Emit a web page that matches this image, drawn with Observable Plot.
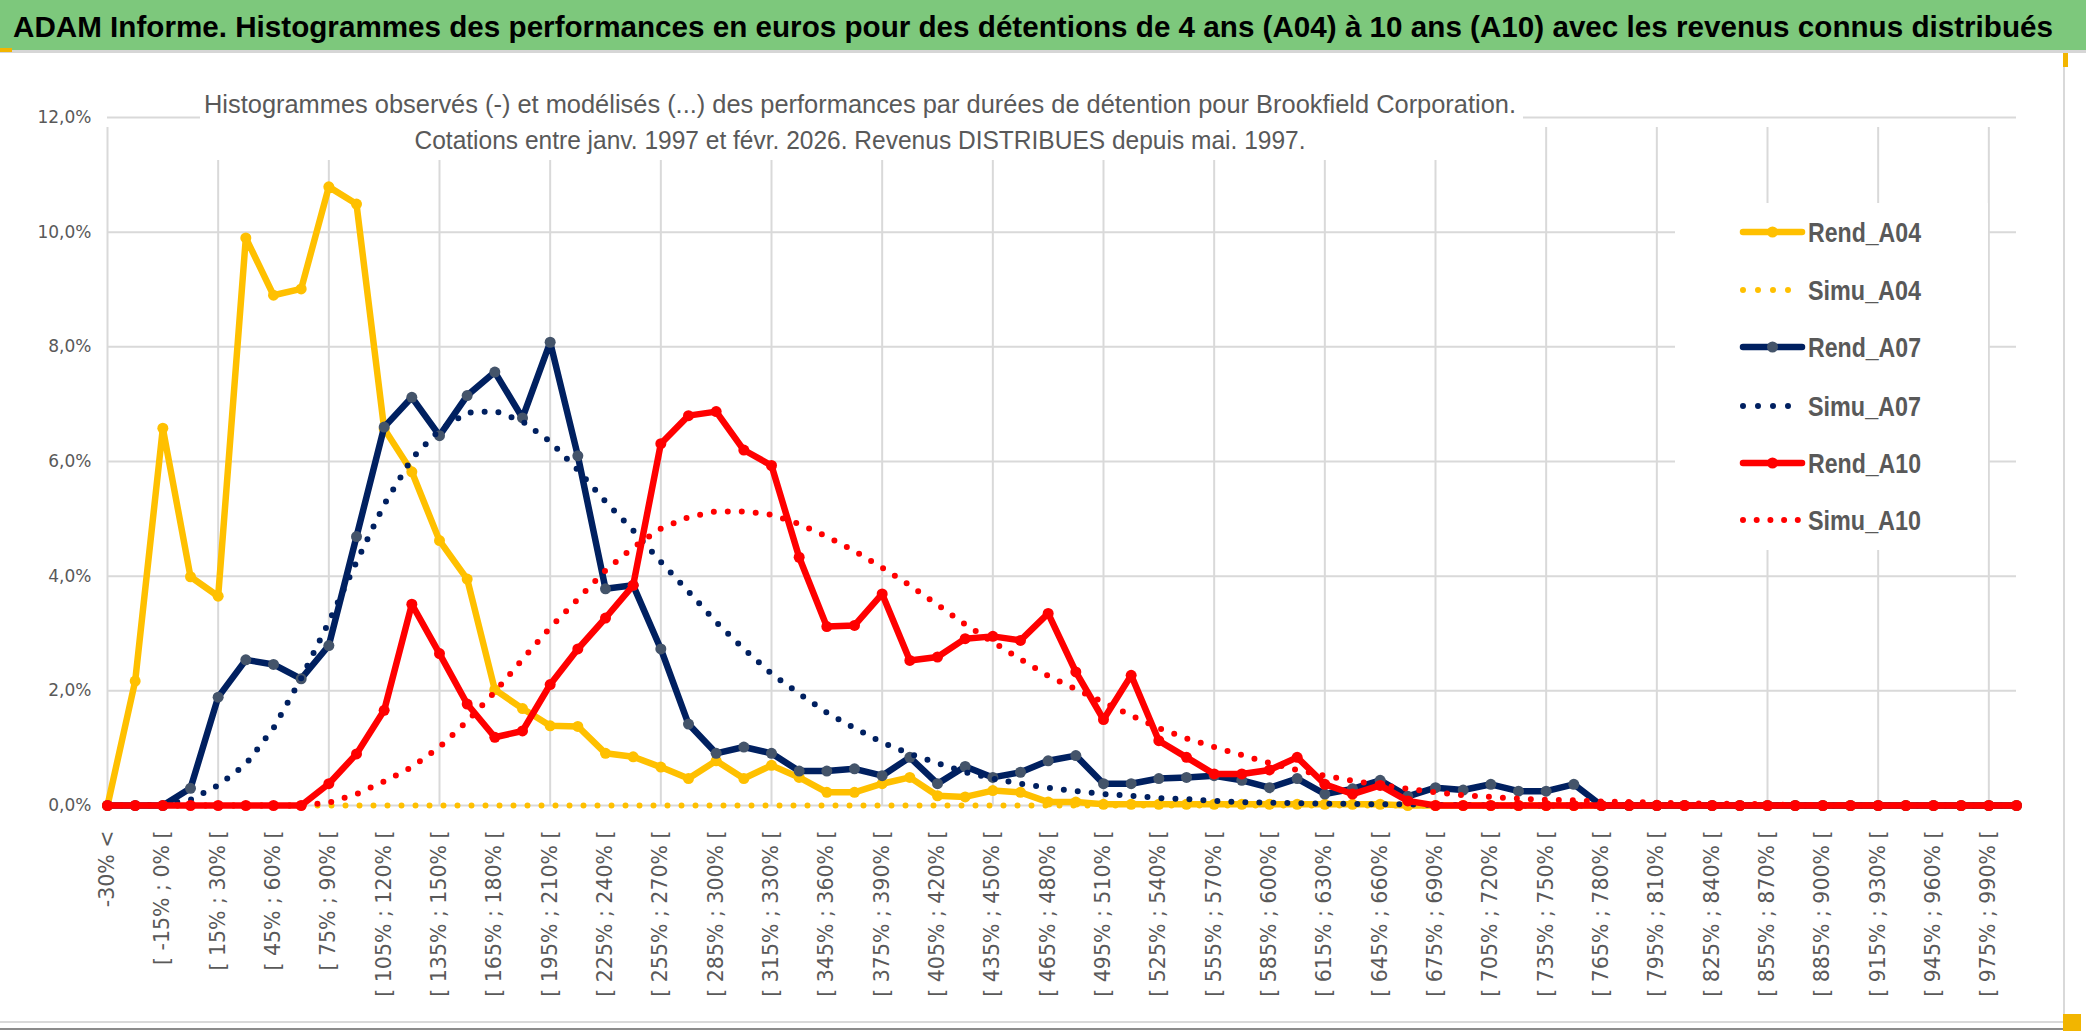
<!DOCTYPE html>
<html><head><meta charset="utf-8">
<script src="https://cdn.jsdelivr.net/npm/d3@7"></script>
<script src="https://cdn.jsdelivr.net/npm/@observablehq/plot@0.6"></script>
<style>
html,body{margin:0;padding:0;background:#fff;}
#wrap{position:relative;width:2086px;height:1031px;overflow:hidden;background:#fff;}
#wrap > *{position:absolute;display:block;}
</style></head><body><div id="wrap"></div>
<script>
const titleText = "ADAM Informe. Histogrammes des performances en euros pour des détentions de 4 ans (A04) à 10 ans (A10) avec les revenus connus distribués";
const subtitleLines = [
  "Histogrammes observés (-) et modélisés (...) des performances par durées de détention pour Brookfield Corporation.",
  "Cotations entre janv. 1997 et févr. 2026. Revenus DISTRIBUES depuis mai. 1997."
];
const categories = [
  "-30% <","[ -30% ; -15% [","[ -15% ; 0% [","[ 0% ; 15% [","[ 15% ; 30% [","[ 30% ; 45% [","[ 45% ; 60% [","[ 60% ; 75% [",
  "[ 75% ; 90% [","[ 90% ; 105% [","[ 105% ; 120% [","[ 120% ; 135% [","[ 135% ; 150% [","[ 150% ; 165% [","[ 165% ; 180% [","[ 180% ; 195% [",
  "[ 195% ; 210% [","[ 210% ; 225% [","[ 225% ; 240% [","[ 240% ; 255% [","[ 255% ; 270% [","[ 270% ; 285% [","[ 285% ; 300% [","[ 300% ; 315% [",
  "[ 315% ; 330% [","[ 330% ; 345% [","[ 345% ; 360% [","[ 360% ; 375% [","[ 375% ; 390% [","[ 390% ; 405% [","[ 405% ; 420% [","[ 420% ; 435% [",
  "[ 435% ; 450% [","[ 450% ; 465% [","[ 465% ; 480% [","[ 480% ; 495% [","[ 495% ; 510% [","[ 510% ; 525% [","[ 525% ; 540% [","[ 540% ; 555% [",
  "[ 555% ; 570% [","[ 570% ; 585% [","[ 585% ; 600% [","[ 600% ; 615% [","[ 615% ; 630% [","[ 630% ; 645% [","[ 645% ; 660% [","[ 660% ; 675% [",
  "[ 675% ; 690% [","[ 690% ; 705% [","[ 705% ; 720% [","[ 720% ; 735% [","[ 735% ; 750% [","[ 750% ; 765% [","[ 765% ; 780% [","[ 780% ; 795% [",
  "[ 795% ; 810% [","[ 810% ; 825% [","[ 825% ; 840% [","[ 840% ; 855% [","[ 855% ; 870% [","[ 870% ; 885% [","[ 885% ; 900% [","[ 900% ; 915% [",
  "[ 915% ; 930% [","[ 930% ; 945% [","[ 945% ; 960% [","[ 960% ; 975% [","[ 975% ; 990% [","> 990%"
];
const xTickLabels = categories.filter((d, i) => i % 2 === 0 && i < 69);
const xGridCats = categories.filter((d, i) => i % 4 === 0);
const yTicks = [0, 2, 4, 6, 8, 10, 12];

// values in percent
const rendA04 = [0,2.17,6.58,3.99,3.65,9.9,8.9,9.01,10.79,10.49,6.57,5.82,4.62,3.95,2.02,1.69,1.39,1.38,0.91,0.85,
  0.67,0.47,0.78,0.47,0.70,0.49,0.23,0.23,0.38,0.49,0.17,0.15,0.26,0.23,0.06,0.06,0.02,0.02,0.02,0.02,
  0.02,0.02,0.02,0.02,0.02,0.02,0.02,0,0,0,0,0,0,0,0,0,0,0,0,0,0,0,0,0,0,0,0,0,0,0];
const simuA04 = [0,0,0,0,0,0,0,0,0,0,0,0,0,0,0,0,0,0,0,0,0,0,0,0,0,0,0,0,0,0,0,0,0,0,0,0,0,0,0,0,
  0,0,0,0,0,0,0,0,0,0,0,0,0,0,0,0,0,0,0,0,0,0,0,0,0,0,0,0,0,0];
const rendA07 = [0,0,0,0.3,1.89,2.54,2.46,2.21,2.79,4.69,6.6,7.12,6.45,7.15,7.56,6.76,8.08,6.1,3.78,3.84,
  2.73,1.42,0.91,1.02,0.91,0.6,0.6,0.64,0.52,0.84,0.38,0.68,0.49,0.58,0.78,0.87,0.38,0.38,0.47,0.49,
  0.52,0.44,0.31,0.47,0.2,0.29,0.44,0.16,0.31,0.27,0.37,0.25,0.25,0.37,0,0,0,0,0,0,0,0,0,0,0,0,0,0,0,0];
const simuA07 = [0,0,0.02,0.1,0.35,0.72,1.35,2.22,3.2,4.25,5.25,6.05,6.55,6.85,6.88,6.7,6.35,5.85,5.3,4.8,
  4.25,3.73,3.2,2.73,2.3,1.95,1.62,1.35,1.1,0.9,0.74,0.58,0.47,0.38,0.31,0.25,0.2,0.17,0.13,0.11,
  0.08,0.06,0.05,0.04,0.03,0.03,0.02,0.02,0.01,0.01,0,0,0,0,0,0,0,0,0,0,0,0,0,0,0,0,0,0,0,0];
const rendA10 = [0,0,0,0,0,0,0,0,0.38,0.9,1.66,3.51,2.65,1.77,1.19,1.3,2.11,2.73,3.27,3.84,
  6.31,6.8,6.87,6.2,5.93,4.33,3.12,3.14,3.69,2.53,2.59,2.91,2.95,2.88,3.35,2.33,1.5,2.27,1.13,0.84,
  0.55,0.55,0.62,0.84,0.37,0.2,0.35,0.08,0,0,0,0,0,0,0,0,0,0,0,0,0,0,0,0,0,0,0,0,0,0];
const simuA10 = [0,0,0,0,0,0,0,0,0.05,0.2,0.42,0.67,1.02,1.47,1.98,2.55,3.1,3.6,4.1,4.5,
  4.83,5.03,5.13,5.13,5.07,4.91,4.69,4.44,4.15,3.84,3.5,3.16,2.85,2.55,2.26,2.03,1.8,1.57,1.35,1.17,
  1.02,0.88,0.74,0.62,0.52,0.43,0.36,0.29,0.23,0.18,0.15,0.12,0.1,0.09,0.07,0.06,0.05,0.04,0.03,0.03,
  0.02,0.01,0.01,0.01,0,0,0,0,0,0];

const seriesNames = ["Rend_A04","Simu_A04","Rend_A07","Simu_A07","Rend_A10","Simu_A10"];
const seriesValues = [rendA04, simuA04, rendA07, simuA07, rendA10, simuA10];
const seriesColors = ["#FFC000","#FFC000","#002060","#002060","#FF0000","#FF0000"];
const markerColors = ["#FFC000", null, "#44546A", null, "#FF0000", null];

const wrap = d3.select("#wrap");

// title bar
const tsvg = wrap.append("svg").attr("width", 2086).attr("height", 54).style("left","0px").style("top","0px");
tsvg.append("rect").attr("width", 2086).attr("height", 50).attr("fill", "#7dc87c");
tsvg.append("rect").attr("y", 50).attr("width", 2086).attr("height", 3).attr("fill", "#d6d6d6");
tsvg.append("rect").attr("y", 48).attr("width", 12).attr("height", 4).attr("fill", "#f2b500");
tsvg.append("text").attr("x", 13).attr("y", 37).attr("textLength", 2040).attr("lengthAdjust", "spacingAndGlyphs")
  .attr("fill", "#000").style("font", "bold 30px 'Liberation Sans Narrow','Liberation Sans',Arial,sans-serif")
  .text(titleText);

// plot
const marks = [
  Plot.ruleY(yTicks, {y: d => d, stroke: "#d9d9d9", strokeWidth: 2}),
  Plot.ruleX(xGridCats, {x: d => d, y1: 0, y2: 12, stroke: "#d9d9d9", strokeWidth: 2, insetBottom: -10}),
  Plot.axisY({ticks: yTicks, tickSize: 0, tickPadding: 16, fontSize: 17, label: null,
    tickFormat: d => d.toFixed(1).replace(".", ",") + "%"}),
  Plot.axisX({ticks: xTickLabels, tickSize: 0, tickPadding: 25, tickRotate: -90, fontSize: 20.5, label: null})
];
seriesValues.forEach((vals, k) => {
  const rows = vals.map((v, i) => ({cat: categories[i], v}));
  if (markerColors[k] === null) {
    marks.push(Plot.line(rows, {x: "cat", y: "v", stroke: seriesColors[k], strokeWidth: 6,
      strokeDasharray: "0 14", strokeLinecap: "round", strokeLinejoin: "round"}));
  } else {
    marks.push(Plot.line(rows, {x: "cat", y: "v", stroke: seriesColors[k], strokeWidth: 6.5, strokeLinejoin: "round"}));
    marks.push(Plot.dot(rows, {x: "cat", y: "v", r: 5.5, fill: markerColors[k], stroke: "none"}));
  }
});
const chart = Plot.plot({
  width: 2086, height: 981,
  marginLeft: 107, marginRight: 70, marginTop: 67, marginBottom: 226,
  x: {type: "point", domain: categories, padding: 0, axis: null, label: null},
  y: {domain: [0, 12], axis: null, label: null},
  style: {fontFamily: "'DejaVu Sans', sans-serif", color: "#595959", background: "transparent"},
  marks
});
d3.select(chart).style("left", "0px").style("top", "50px");
wrap.node().appendChild(chart);

// frame
const fsvg = wrap.append("svg").attr("width", 2086).attr("height", 1031).style("left","0px").style("top","0px").style("pointer-events","none");
fsvg.append("path").attr("d", "M2064,53 V1022 H0").attr("fill", "none").attr("stroke", "#d9d9d9").attr("stroke-width", 2);
fsvg.append("line").attr("x1", 0).attr("x2", 2066).attr("y1", 1029).attr("y2", 1029).attr("stroke", "#8c8c8c").attr("stroke-width", 2);
fsvg.append("rect").attr("x", 2063).attr("y", 53).attr("width", 5).attr("height", 14).attr("fill", "#f2b500");
fsvg.append("rect").attr("x", 2063).attr("y", 1014).attr("width", 18).attr("height", 17).attr("fill", "#f2b500");

// subtitle box (white panel over the gridlines)
const ssvg = wrap.append("svg").attr("width", 2086).attr("height", 200).style("left","0px").style("top","0px")
  .style("overflow", "visible").style("pointer-events","none");
ssvg.append("rect").attr("x", 200).attr("y", 57).attr("width", 1323).attr("height", 103).attr("fill", "#fff");
const subW = [1312, 891];
const subY = [113, 149];
subtitleLines.forEach((t, i) => {
  ssvg.append("text").attr("x", 860).attr("y", subY[i]).attr("text-anchor", "middle")
    .attr("textLength", subW[i]).attr("lengthAdjust", "spacingAndGlyphs")
    .attr("fill", "#595959")
    .style("font", "25px 'Liberation Sans Narrow','Liberation Sans',Arial,sans-serif")
    .text(t);
});

// legend
const lsvg = wrap.append("svg").attr("width", 313).attr("height", 347).style("left","1675px").style("top","203px");
lsvg.append("rect").attr("width", 313).attr("height", 347).attr("fill", "#fff");
const legY = [29, 87, 144, 203, 260, 317];
seriesNames.forEach((name, k) => {
  const y = legY[k];
  if (markerColors[k] === null) {
    const gap = k === 5 ? 13.7 : 15;
    const end = k === 5 ? 124 : 116;
    lsvg.append("line").attr("x1", 68).attr("x2", end).attr("y1", y).attr("y2", y)
      .attr("stroke", seriesColors[k]).attr("stroke-width", 6).attr("stroke-linecap", "round")
      .attr("stroke-dasharray", `0 ${gap}`);
  } else {
    lsvg.append("line").attr("x1", 68).attr("x2", 127).attr("y1", y).attr("y2", y)
      .attr("stroke", seriesColors[k]).attr("stroke-width", 6.5).attr("stroke-linecap", "round");
    lsvg.append("circle").attr("cx", 97.5).attr("cy", y).attr("r", 5.5).attr("fill", markerColors[k]);
  }
  lsvg.append("text").attr("x", 133).attr("y", y + 10).attr("textLength", 113).attr("lengthAdjust", "spacingAndGlyphs")
    .attr("fill", "#595959").style("font", "bold 28px 'Liberation Sans Narrow','Liberation Sans',Arial,sans-serif")
    .text(name);
});
</script></body></html>
